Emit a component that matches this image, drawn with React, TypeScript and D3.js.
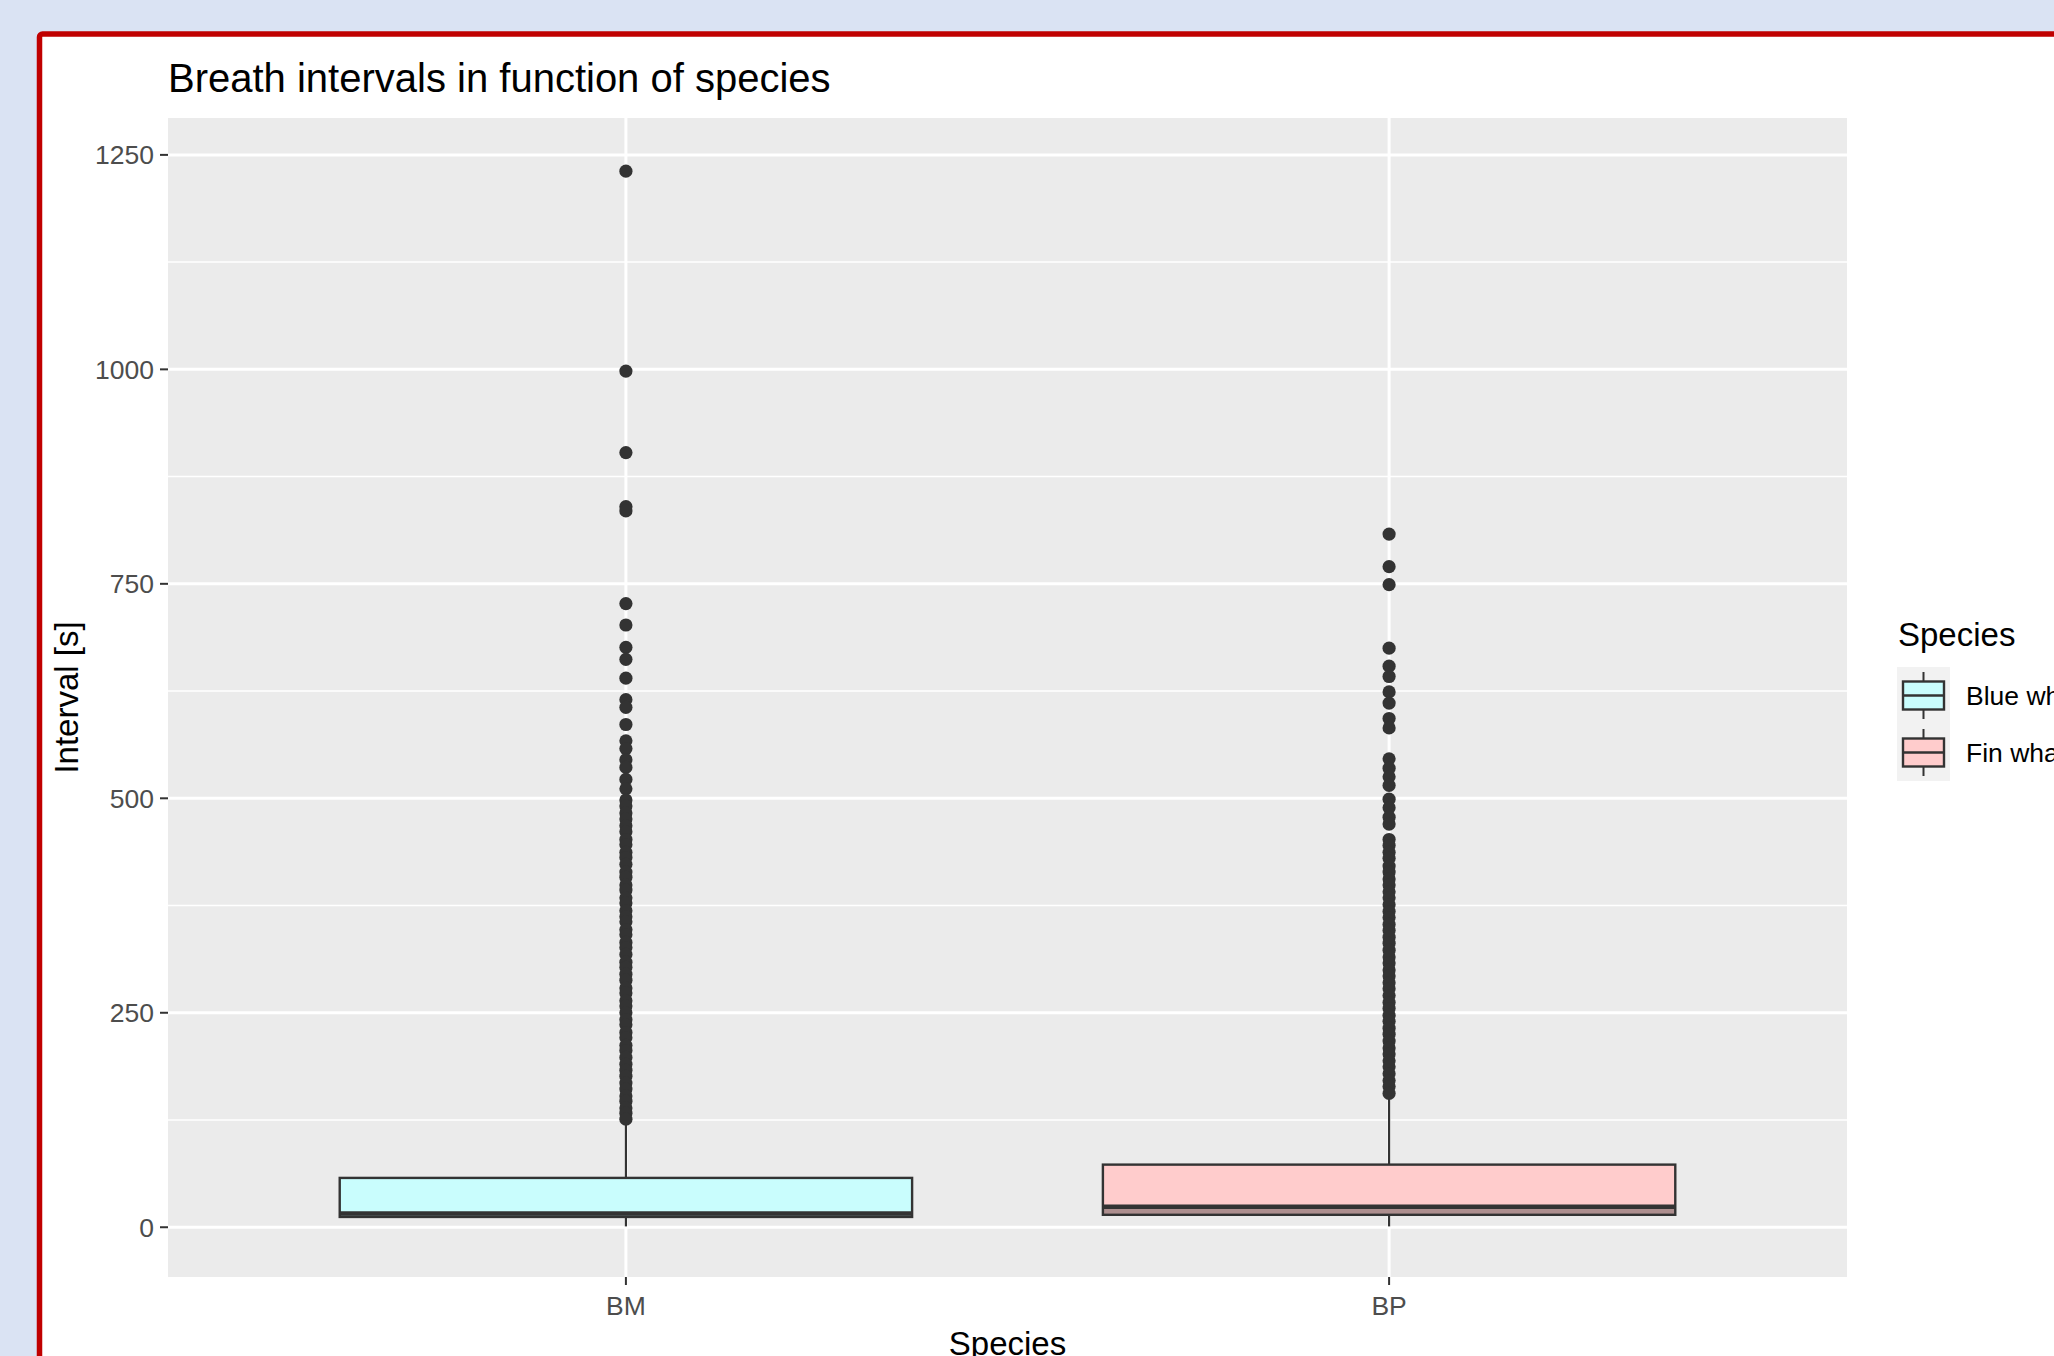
import * as d3 from "d3";

// species codes on the x axis and their legend names
const categories = ["BM", "BP"];
const legendLabels = ["Blue whale", "Fin whale"];
const fills = ["#c9fdfd", "#ffcccc"];

// box statistics (seconds)
const lowerWhisker = [1, 1];
const q1 = [12, 14.5];
const median = [16, 24];
const q3 = [57.5, 73];
const upperWhisker = [125, 155];

// outliers, top to bottom; the lower run is a dense column of overlapping dots
const outliersBM = [
  1231, 998, 903, 840, 835, 727, 702, 676, 662, 640, 615, 606, 586, 567, 558, 545, 536, 522, 511,
  498, 491, 483, 476, 468, 461, 452, 446, 437, 431, 423, 414, 408, 399, 393, 384, 378, 369, 362,
  356, 347, 341, 332, 326, 318, 309, 303, 295, 288, 279, 273, 264, 258, 250, 242, 236, 227, 221,
  212, 206, 198, 190, 183, 176, 168, 161, 153, 147, 139, 133, 126,
];
const outliersBP = [
  808, 770, 749, 675, 654, 642, 624, 611, 593, 582, 546, 535, 525, 515, 499, 489, 478, 470,
  452, 445, 437, 430, 421, 414, 406, 399, 391, 384, 376, 368, 361, 353, 346, 338, 331, 323, 315,
  308, 300, 293, 285, 278, 270, 262, 255, 247, 240, 232, 225, 217, 209, 202, 194, 187, 179, 171,
  164, 156,
];
const outliers = [outliersBM, outliersBP];

const yTicks = [0, 250, 500, 750, 1000, 1250];
const yMinor = [125, 375, 625, 875, 1125];

const W = 2054;
const H = 1356;
const panel = { left: 168, right: 1847, top: 118, bottom: 1277 };
const font = "'Liberation Sans', Arial, Helvetica, sans-serif";

export default function App() {
  const x = d3
    .scalePoint<string>()
    .domain(categories)
    .range([panel.left, panel.right])
    .padding(0.6);
  const step = x.step();
  const boxW = step * 0.75;

  const y = d3.scaleLinear().domain([-58, 1293]).range([panel.bottom, panel.top]);

  return (
    <svg
      width={W}
      height={H}
      style={{ position: "absolute", left: 0, top: 0, fontFamily: font }}
    >
      {/* slide background and red frame */}
      <rect x={0} y={0} width={W} height={H} fill="#dae3f3" />
      <rect
        x={39.5}
        y={34}
        width={W + 40}
        height={H + 40}
        rx={3}
        fill="#ffffff"
        stroke="#c00000"
        strokeWidth={5.5}
      />

      {/* title */}
      <text x={168} y={92} fontSize={40} fill="#000">
        Breath intervals in function of species
      </text>

      {/* panel */}
      <rect
        x={panel.left}
        y={panel.top}
        width={panel.right - panel.left}
        height={panel.bottom - panel.top}
        fill="#ebebeb"
      />
      {yMinor.map((v) => (
        <line
          key={"mn" + v}
          x1={panel.left}
          x2={panel.right}
          y1={y(v)}
          y2={y(v)}
          stroke="#fff"
          strokeWidth={1.5}
        />
      ))}
      {yTicks.map((v) => (
        <line
          key={"mj" + v}
          x1={panel.left}
          x2={panel.right}
          y1={y(v)}
          y2={y(v)}
          stroke="#fff"
          strokeWidth={3}
        />
      ))}
      {categories.map((c) => (
        <line
          key={"vx" + c}
          x1={x(c)}
          x2={x(c)}
          y1={panel.top}
          y2={panel.bottom}
          stroke="#fff"
          strokeWidth={3}
        />
      ))}

      {/* boxplots */}
      {categories.map((c, i) => {
        const cx = x(c) as number;
        return (
          <g key={"box" + c}>
            <line
              x1={cx}
              x2={cx}
              y1={y(upperWhisker[i])}
              y2={y(q3[i])}
              stroke="#333"
              strokeWidth={2.2}
            />
            <line
              x1={cx}
              x2={cx}
              y1={y(q1[i])}
              y2={y(lowerWhisker[i])}
              stroke="#333"
              strokeWidth={2.2}
            />
            <rect
              x={cx - boxW / 2}
              y={y(q3[i])}
              width={boxW}
              height={y(q1[i]) - y(q3[i])}
              fill={fills[i]}
              stroke="#333"
              strokeWidth={2.4}
            />
            <rect
              x={cx - boxW / 2}
              y={y(median[i])}
              width={boxW}
              height={y(q1[i]) - y(median[i])}
              fill="#333"
              fillOpacity={0.4}
            />
            <line
              x1={cx - boxW / 2}
              x2={cx + boxW / 2}
              y1={y(median[i])}
              y2={y(median[i])}
              stroke="#333"
              strokeWidth={4.5}
            />
            {outliers[i].map((v, k) => (
              <circle key={k} cx={cx} cy={y(v)} r={6.6} fill="#333" />
            ))}
          </g>
        );
      })}

      {/* y axis */}
      {yTicks.map((v) => (
        <g key={"yt" + v}>
          <line
            x1={panel.left - 8}
            x2={panel.left}
            y1={y(v)}
            y2={y(v)}
            stroke="#333"
            strokeWidth={2}
          />
          <text
            x={panel.left - 14}
            y={y(v)}
            dy="0.35em"
            textAnchor="end"
            fontSize={26.5}
            fill="#4d4d4d"
          >
            {v}
          </text>
        </g>
      ))}
      <text
        transform={`translate(78,${(panel.top + panel.bottom) / 2}) rotate(-90)`}
        textAnchor="middle"
        fontSize={33}
        fill="#000"
      >
        Interval [s]
      </text>

      {/* x axis */}
      {categories.map((c) => (
        <g key={"xt" + c}>
          <line
            x1={x(c)}
            x2={x(c)}
            y1={panel.bottom}
            y2={panel.bottom + 8}
            stroke="#333"
            strokeWidth={2}
          />
          <text
            x={x(c)}
            y={panel.bottom + 38}
            textAnchor="middle"
            fontSize={26.5}
            fill="#4d4d4d"
          >
            {c}
          </text>
        </g>
      ))}
      <text
        x={(panel.left + panel.right) / 2}
        y={1355}
        textAnchor="middle"
        fontSize={33}
        fill="#000"
      >
        Species
      </text>

      {/* legend */}
      <text x={1898} y={646} fontSize={33} fill="#000">
        Species
      </text>
      {legendLabels.map((lab, i) => {
        const top = 667 + i * 57;
        const kx = 1897;
        const kw = 53;
        const kh = 57;
        const mid = top + kh / 2;
        const cx = kx + kw / 2;
        return (
          <g key={"lg" + i}>
            <rect x={kx} y={top} width={kw} height={kh} fill="#f2f2f2" />
            <line x1={cx} x2={cx} y1={top + 5} y2={mid - 14} stroke="#333" strokeWidth={2} />
            <line x1={cx} x2={cx} y1={mid + 14} y2={top + kh - 5} stroke="#333" strokeWidth={2} />
            <rect
              x={kx + 6}
              y={mid - 14}
              width={kw - 12}
              height={28}
              fill={fills[i]}
              stroke="#333"
              strokeWidth={2.4}
            />
            <line
              x1={kx + 6}
              x2={kx + kw - 6}
              y1={mid}
              y2={mid}
              stroke="#333"
              strokeWidth={2.5}
            />
            <text x={1966} y={mid} dy="0.35em" fontSize={26.5} fill="#000">
              {lab}
            </text>
          </g>
        );
      })}
    </svg>
  );
}
